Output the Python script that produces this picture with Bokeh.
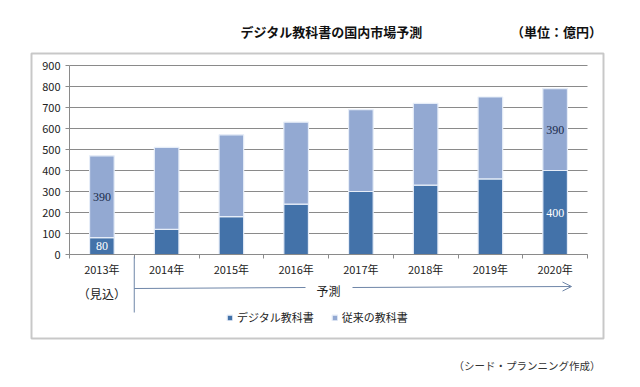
from bokeh.plotting import figure
from bokeh.models import (Range1d, FixedTicker, Label, Arrow, OpenHead,
                          BoxAnnotation, Legend, LegendItem, ColumnDataSource, LabelSet,
                          LinearAxis)
from bokeh.embed import file_html
from bokeh.resources import INLINE

# ---- data ----
years = ["2013年", "2014年", "2015年", "2016年", "2017年", "2018年", "2019年", "2020年"]
digital = [80, 120, 180, 240, 300, 330, 360, 400]
conventional = [390, 390, 390, 390, 390, 390, 390, 390]
series_names = ["デジタル教科書", "従来の教科書"]
y_ticks = [0, 100, 200, 300, 400, 500, 600, 700, 800, 900]
labeled_years = ["2013年", "2020年"]
title_text = "デジタル教科書の国内市場予測"
unit_text = "（単位：億円）"
estimate_text = "（見込）"
forecast_text = "予測"
source_text = "（シード・プランニング作成）"

FONT = "Noto Sans CJK JP"
C_DIG = "#4372a9"
C_CONV = "#93a9d2"
C_AX = "#8a8a8a"
C_ARROW = "#6f86a8"

W, H = 640, 387
# plot-area placement on the canvas (px)
PL, PR, PT, PB = 69, 587, 65, 254
YMAX = y_ticks[-1]
n = len(years)
xpp = n / (PR - PL)          # data units per px (x)
ypp = YMAX / (PB - PT)       # data units per px (y)

def dx(px):
    return -0.5 + (px - PL) * xpp

def dy(py):
    return (PB - py) * ypp

p = figure(width=W, height=H, output_backend="svg", toolbar_location=None,
           x_range=Range1d(dx(0), dx(W)), y_range=Range1d(dy(H), dy(0)),
           x_axis_location=None, y_axis_location=None, min_border=0)
p.outline_line_color = None
p.background_fill_color = "white"
p.border_fill_color = "white"
p.grid.visible = False

xs = list(range(n))

# horizontal grid lines across the plot area
p.segment(x0=[-0.5] * len(y_ticks), x1=[n - 0.5] * len(y_ticks), y0=y_ticks, y1=y_ticks,
          line_color="#8a8a8a", line_width=1)

src = ColumnDataSource(dict(x=xs, d=digital, c=conventional))
rs = p.vbar_stack(["d", "c"], x="x", width=0.38, source=src,
                  color=[C_DIG, C_CONV], line_color="#e6edf8", line_width=1.2)

# axes (fixed inside the canvas)
yax = LinearAxis(fixed_location=-0.5, bounds=(0, YMAX), ticker=FixedTicker(ticks=y_ticks))
yax.axis_line_color = C_AX
yax.major_tick_line_color = C_AX
yax.major_tick_out = 4
yax.major_tick_in = 0
yax.minor_tick_line_color = None
yax.major_label_text_font = FONT
yax.major_label_text_font_size = "11px"
yax.major_label_text_color = "#222222"
yax.major_label_standoff = 5
p.add_layout(yax, "left")

xax = LinearAxis(fixed_location=0, bounds=(-0.5, n - 0.5),
                 ticker=FixedTicker(ticks=xs, minor_ticks=[i - 0.5 for i in range(n + 1)]))
xax.major_label_overrides = {i: y for i, y in enumerate(years)}
xax.axis_line_color = C_AX
xax.major_tick_line_color = None
xax.minor_tick_line_color = C_AX
xax.minor_tick_out = 4
xax.minor_tick_in = 0
xax.major_label_text_font = FONT
xax.major_label_text_font_size = "11px"
xax.major_label_text_color = "#222222"
xax.major_label_standoff = 0
p.add_layout(xax, "below")

# value labels inside bars
lx, ly, lt, lc = [], [], [], []
for yr in labeled_years:
    i = years.index(yr)
    lx += [i, i]
    ly += [digital[i] / 2, digital[i] + conventional[i] / 2]
    lt += [str(digital[i]), str(conventional[i])]
    lc += ["white", "#1a2a4a"]
lsrc = ColumnDataSource(dict(x=lx, y=ly, t=lt, c=lc))
p.add_layout(LabelSet(x="x", y="y", text="t", source=lsrc, text_color="c",
                      text_font=FONT, text_font_size="12px",
                      text_align="center", text_baseline="middle"))

# outer chart border
p.add_layout(BoxAnnotation(left=dx(31), right=dx(603), top=dy(53), bottom=dy(338),
                           fill_color=None, line_color="#4a4a4a", line_width=2,
                           level="underlay"))

# titles
p.add_layout(Label(x=dx(331), y=dy(31), text=title_text, text_font=FONT,
                   text_font_size="13px", text_font_style="bold",
                   text_align="center", text_baseline="middle", text_color="#111111"))
p.add_layout(Label(x=dx(556), y=dy(31), text=unit_text, text_font=FONT,
                   text_font_size="13px", text_font_style="bold",
                   text_align="center", text_baseline="middle", text_color="#111111"))

# (見込) and forecast arrow
p.add_layout(Label(x=0, y=dy(293), text=estimate_text, text_font=FONT,
                   text_font_size="12px", text_align="center", text_baseline="middle",
                   text_color="#222222"))
p.add_layout(Arrow(x_start=0.5, y_start=dy(256), x_end=0.5, y_end=dy(312), end=None,
                   line_color=C_ARROW, line_width=1))
p.add_layout(Arrow(x_start=0.5, y_start=dy(288), x_end=dx(305), y_end=dy(287), end=None,
                   line_color=C_ARROW, line_width=1))
p.add_layout(Arrow(x_start=dx(352), y_start=dy(287), x_end=dx(571), y_end=dy(286),
                   end=OpenHead(size=9, line_color=C_ARROW, line_width=1),
                   line_color=C_ARROW, line_width=1))
p.add_layout(Label(x=dx(328), y=dy(290), text=forecast_text, text_font=FONT,
                   text_font_size="12px", text_align="center", text_baseline="middle",
                   text_color="#222222"))

# legend
legend = Legend(items=[LegendItem(label=series_names[0], renderers=[rs[0]]),
                       LegendItem(label=series_names[1], renderers=[rs[1]])],
                orientation="horizontal", location=(226, H - 325),
                label_text_font=FONT, label_text_font_size="11px",
                label_text_color="#222222", glyph_width=7, glyph_height=7,
                spacing=17, padding=0, margin=0, label_standoff=4,
                border_line_color=None, background_fill_alpha=0)
p.add_layout(legend, "center")

# source note
p.add_layout(Label(x=dx(600), y=dy(365), text=source_text, text_font=FONT,
                   text_font_size="10.5px", text_align="right", text_baseline="middle",
                   text_color="#333333"))

open("out.html", "w").write(file_html(p, INLINE))
